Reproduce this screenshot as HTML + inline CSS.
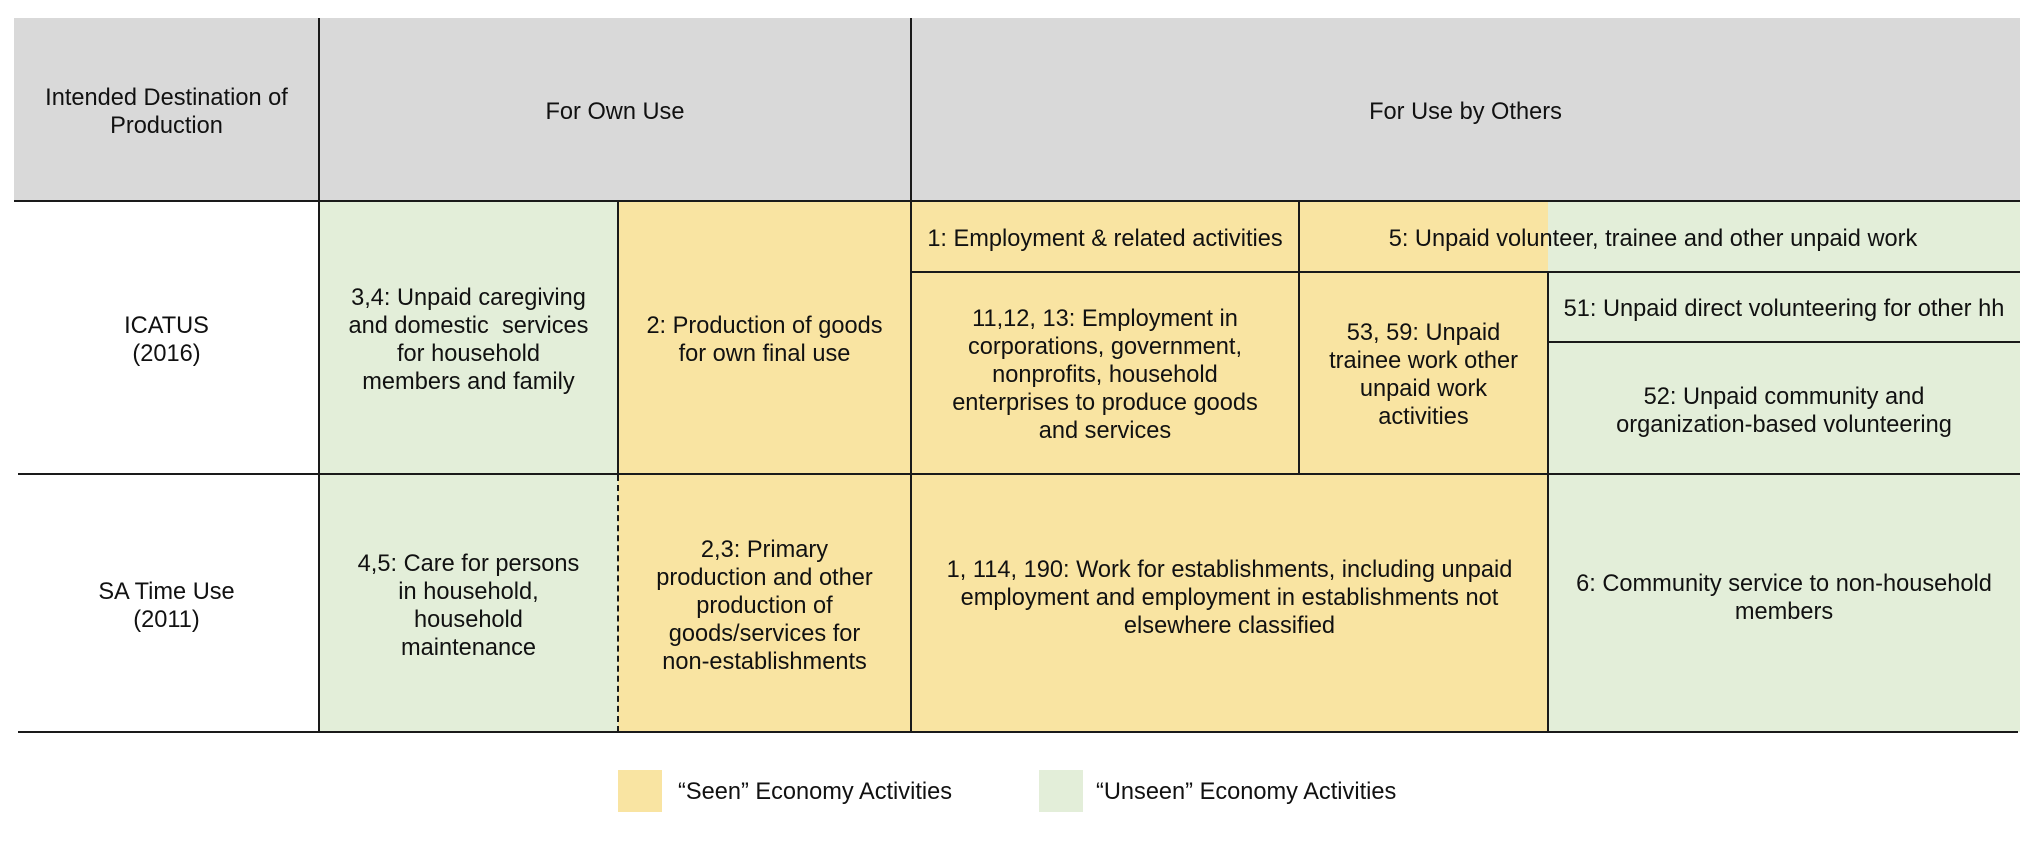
<!DOCTYPE html>
<html><head><meta charset="utf-8"><style>
body{margin:0;width:2038px;height:842px;background:#fff;position:relative;overflow:hidden;font-family:"Liberation Sans",Arial,sans-serif;font-size:23.6px;color:#111;}
.c{position:absolute;display:flex;align-items:center;justify-content:center;text-align:center;line-height:28px;box-sizing:border-box;padding:5px 4px 0 4px;}
.y{background:#f9e4a2}.g{background:#e3eed9}.h{background:#d9d9d9}
.l{position:absolute;background:#1a1a1a}
</style></head><body>
<div class="c h" style="left:14px;top:18px;width:2006px;height:183px"></div>
<div class="c" style="left:14px;top:18px;width:305px;height:183px">Intended Destination of<br>Production</div>
<div class="c" style="left:319px;top:18px;width:592px;height:183px">For Own Use</div>
<div class="c" style="left:911px;top:18px;width:1109px;height:183px">For Use by Others</div>

<div class="c" style="left:14px;top:201px;width:305px;height:273px">ICATUS<br>(2016)</div>
<div class="c g" style="left:319px;top:201px;width:299px;height:273px">3,4: Unpaid caregiving<br>and domestic&nbsp; services<br>for household<br>members and family</div>
<div class="c y" style="left:618px;top:201px;width:293px;height:273px">2: Production of goods<br>for own final use</div>
<div class="c y" style="left:911px;top:201px;width:388px;height:70px">1: Employment &amp; related activities</div>
<div class="c y" style="left:911px;top:271px;width:388px;height:203px">11,12, 13: Employment in<br>corporations, government,<br>nonprofits, household<br>enterprises to produce goods<br>and services</div>
<div class="y" style="position:absolute;left:1299px;top:201px;width:249px;height:70px"></div>
<div class="g" style="position:absolute;left:1548px;top:201px;width:472px;height:70px"></div>
<div class="c" style="left:1299px;top:201px;width:708px;height:70px">5: Unpaid volunteer, trainee and other unpaid work</div>
<div class="c y" style="left:1299px;top:271px;width:249px;height:203px">53, 59: Unpaid<br>trainee work other<br>unpaid work<br>activities</div>
<div class="c g" style="left:1548px;top:271px;width:472px;height:71px">51: Unpaid direct volunteering for other hh</div>
<div class="c g" style="left:1548px;top:342px;width:472px;height:132px">52: Unpaid community and<br>organization-based volunteering</div>

<div class="c" style="left:14px;top:474px;width:305px;height:258px">SA Time Use<br>(2011)</div>
<div class="c g" style="left:319px;top:474px;width:299px;height:258px">4,5: Care for persons<br>in household,<br>household<br>maintenance</div>
<div class="c y" style="left:618px;top:474px;width:293px;height:258px">2,3: Primary<br>production and other<br>production of<br>goods/services for<br>non-establishments</div>
<div class="c y" style="left:911px;top:474px;width:637px;height:258px;padding-bottom:16px">1, 114, 190: Work for establishments, including unpaid<br>employment and employment in establishments not<br>elsewhere classified</div>
<div class="c g" style="left:1548px;top:474px;width:472px;height:258px;padding-bottom:16px">6: Community service to non-household<br>members</div>

<div class="l" style="left:14px;top:200px;width:2006px;height:2px"></div>
<div class="l" style="left:18px;top:473px;width:2002px;height:2px"></div>
<div class="l" style="left:18px;top:731px;width:2000px;height:2px"></div>
<div class="l" style="left:318px;top:18px;width:2px;height:714px"></div>
<div class="l" style="left:910px;top:18px;width:2px;height:714px"></div>
<div class="l" style="left:617px;top:201px;width:2px;height:273px"></div>
<div style="position:absolute;left:617px;top:475px;width:0;height:257px;border-left:2px dashed #1a1a1a"></div>
<div class="l" style="left:911px;top:271px;width:1109px;height:2px"></div>
<div class="l" style="left:1548px;top:341px;width:472px;height:2px"></div>
<div class="l" style="left:1298px;top:201px;width:2px;height:273px"></div>
<div class="l" style="left:1547px;top:271px;width:2px;height:461px"></div>

<div class="y" style="position:absolute;left:618px;top:770px;width:44px;height:42px"></div>
<div style="position:absolute;left:678px;top:778px;line-height:28px">“Seen” Economy Activities</div>
<div class="g" style="position:absolute;left:1039px;top:770px;width:44px;height:42px"></div>
<div style="position:absolute;left:1096px;top:778px;line-height:28px">“Unseen” Economy Activities</div>
</body></html>
